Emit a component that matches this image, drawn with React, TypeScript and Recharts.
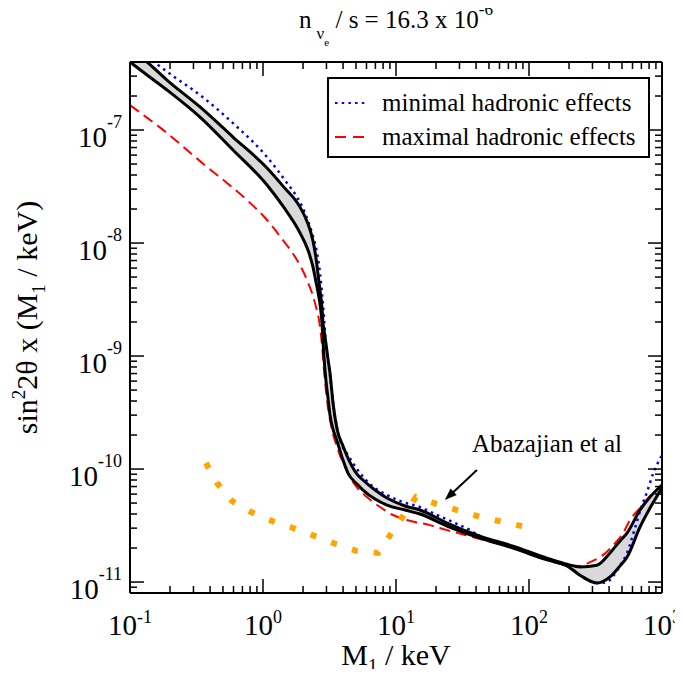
import React from 'react';
import {
  ComposedChart,
  Line,
  Area,
  XAxis,
  YAxis,
  Legend,
  Label,
  ReferenceLine,
  ReferenceDot,
} from 'recharts';

const FONT = '"Liberation Serif", "Times New Roman", Times, serif';

// ---------- data (M1 in keV, y = sin^2 2theta x (M1/keV)) ----------
const bandMass = [
  0.1, 0.1343, 0.1897, 0.336, 0.595, 1.072, 1.413, 1.898, 2.178, 2.377, 2.503,
  2.591, 2.683, 2.777, 2.826, 2.875, 2.977, 3.082, 3.19, 3.36, 3.601, 3.995,
  4.356, 5.09, 5.648, 6.953, 8.556, 11.69, 15.15, 24.18, 42.81, 75.82, 136.6,
  193.1, 241.8, 324.6, 406.4, 483.3, 545.6, 683.4, 812.5, 1000,
];
const bandLower = [
  4.0e-7, 3.07e-7, 2.26e-7, 1.3e-7, 6.65e-8, 3.26e-8, 2.12e-8, 1.23e-8, 8.67e-9,
  6.13e-9, 4.52e-9, 3.68e-9, 2.88e-9, 1.96e-9, 1.36e-9, 9.8e-10, 6.01e-10,
  4.25e-10, 3.01e-10, 2.26e-10, 1.77e-10, 1.2e-10, 9.22e-11, 7.36e-11,
  6.52e-11, 5.43e-11, 4.8e-11, 4.34e-11, 4.0e-11, 3.13e-11, 2.45e-11, 2.0e-11,
  1.57e-11, 1.39e-11, 1.15e-11, 9.8e-12, 1.11e-11, 1.39e-11, 1.66e-11,
  3.07e-11, 4.52e-11, 6.79e-11,
];
const bandUpper = [
  5.21e-7, 4.0e-7, 2.77e-7, 1.6e-7, 8.67e-8, 4.61e-8, 3.19e-8, 2.08e-8, 1.48e-8,
  1.04e-8, 7.37e-9, 5.32e-9, 3.84e-9, 2.66e-9, 1.96e-9, 1.7e-9, 1.28e-9,
  9.4e-10, 7.07e-10, 3.84e-10, 2.26e-10, 1.6e-10, 1.25e-10, 9.03e-11, 8.0e-11,
  6.52e-11, 5.54e-11, 4.71e-11, 4.34e-11, 3.33e-11, 2.55e-11, 2.08e-11,
  1.63e-11, 1.44e-11, 1.36e-11, 1.41e-11, 1.81e-11, 2.31e-11, 2.71e-11,
  4.34e-11, 5.65e-11, 7.22e-11,
];

const minMass = [
  0.1, 0.1624, 0.2105, 0.336, 0.595, 1.072, 1.515, 1.801, 2.069, 2.335, 2.547,
  2.683, 2.777, 2.875, 2.977, 3.19, 3.419, 3.793, 4.356, 5.09, 6.375, 8.556,
  11.29, 15.15, 20.3, 26.8, 36.0, 42.81, 75.82, 136.6, 193.1, 241.8, 324.6,
  385.6, 428.5, 483.3, 545.6, 627, 695, 771, 855, 1000,
];
const minValue = [
  5.54e-7, 3.76e-7, 3.01e-7, 2.04e-7, 1.15e-7, 5.77e-8, 3.4e-8, 2.55e-8,
  1.84e-8, 1.23e-8, 8.16e-9, 5.43e-9, 3.61e-9, 2.17e-9, 1.25e-9, 6.79e-10,
  3.33e-10, 1.81e-10, 1.33e-10, 1.0e-10, 7.36e-11, 5.89e-11, 5.1e-11, 4.61e-11,
  3.92e-11, 3.4e-11, 2.88e-11, 2.55e-11, 2.04e-11, 1.6e-11, 1.41e-11, 1.15e-11,
  9.8e-12, 1.0e-11, 1.13e-11, 1.39e-11, 1.81e-11, 3.01e-11, 4.52e-11, 6.25e-11,
  9.03e-11, 1.33e-10,
];

const maxMass = [
  0.1, 0.1413, 0.1897, 0.2683, 0.3793, 0.536, 0.758, 1.072, 1.413, 1.801, 2.141,
  2.46, 2.683, 2.777, 2.875, 3.029, 3.245, 3.601, 4.135, 4.92, 6.05, 7.59, 9.49,
  12.1, 18.0, 24.18, 33.0, 42.81, 75.82, 136.6, 193.1, 241.8, 287.6, 359.6,
  443.6, 509.6, 574, 683.4, 812.5, 1000,
];
const maxValue = [
  1.66e-7, 1.23e-7, 9.41e-8, 6.65e-8, 4.71e-8, 3.4e-8, 2.4e-8, 1.6e-8, 1.06e-8,
  7.07e-9, 4.71e-9, 2.94e-9, 1.81e-9, 1.25e-9, 7.52e-10, 4.08e-10, 2.45e-10,
  1.57e-10, 1.04e-10, 7.22e-11, 5.65e-11, 4.61e-11, 3.92e-11, 3.54e-11,
  3.19e-11, 2.88e-11, 2.61e-11, 2.4e-11, 2.0e-11, 1.57e-11, 1.41e-11, 1.39e-11,
  1.5e-11, 1.73e-11, 2.21e-11, 2.71e-11, 3.54e-11, 4.52e-11, 5.77e-11, 7.22e-11,
];

const abaMass = [
  0.372, 0.451, 0.585, 0.813, 1.169, 1.681, 2.46, 3.54, 5.09, 7.32, 14.13, 20.3,
  43.5, 94.9,
];
const abaValue = [
  1.13e-10, 7.52e-11, 5.21e-11, 4.16e-11, 3.47e-11, 3.01e-11, 2.55e-11,
  2.17e-11, 1.88e-11, 1.81e-11, 5.65e-11, 4.9e-11, 3.76e-11, 3.07e-11,
];

// annotation
const annotText = 'Abazajian et al';
const annotAt = { x: 136.6, y: 1.7e-10 };
const arrowFrom = { x: 40.6, y: 9.8e-11 };
const arrowTo = { x: 23.3, y: 5.32e-11 };

// axes
const xDomain = [0.1, 1000];
const yDomain = [8e-12, 4e-7];
const xDecades = [0.1, 1, 10, 100];
const yDecades = [1e-12, 1e-11, 1e-10, 1e-9, 1e-8, 1e-7];
const mantissas = [1, 2, 3, 4, 5, 6, 7, 8, 9];
const xTicks = [...xDecades.flatMap((d) => mantissas.map((m) => +(m * d).toPrecision(3))), 1000];
const yTicks = yDecades
  .flatMap((d) => mantissas.map((m) => +(m * d).toPrecision(3)))
  .filter((v) => v >= yDomain[0] * 1.01 && v <= yDomain[1] * 0.99);

const legendItems = [
  { label: 'minimal hadronic effects', color: '#0000ff', dash: '2.5 4.2' },
  { label: 'maximal hadronic effects', color: '#ff0000', dash: '11 7' },
];

// ---------- rows ----------
const bandRows = bandMass.map((x, i) => ({
  x,
  lo: bandLower[i],
  hi: bandUpper[i],
  range: [bandLower[i], bandUpper[i]],
}));
const minRows = minMass.map((x, i) => ({ x, y: minValue[i] }));
const maxRows = maxMass.map((x, i) => ({ x, y: maxValue[i] }));
const abaRows = abaMass.map((x, i) => ({ x, y: abaValue[i] }));

// ---------- helpers ----------
const isMajor = (v: number) =>
  Math.abs(Math.log10(v) - Math.round(Math.log10(v))) < 1e-6;
const expOf = (v: number) => String(Math.round(Math.log10(v)));
const MAJOR = 14;
const MINOR = 7;
const TICK_W = 1.5;

const BottomTick = (p: any) => {
  const { x, y, payload } = p;
  const v = payload.value;
  const major = isMajor(v);
  return (
    <g>
      <line x1={x} y1={y} x2={x} y2={y - (major ? MAJOR : MINOR)} stroke="#000" strokeWidth={TICK_W} />
      {major && (
        <text x={x} y={y + 42} textAnchor="middle" fontFamily={FONT} fontSize={29} fill="#000">
          10
          <tspan dy={-12} fontSize={18}>
            {expOf(v)}
          </tspan>
        </text>
      )}
    </g>
  );
};

const TopTick = (p: any) => {
  const { x, y, payload } = p;
  const major = isMajor(payload.value);
  return <line x1={x} y1={y} x2={x} y2={y + (major ? MAJOR : MINOR)} stroke="#000" strokeWidth={TICK_W} />;
};

const LeftTick = (p: any) => {
  const { x, y, payload } = p;
  const v = payload.value;
  const major = isMajor(v);
  return (
    <g>
      <line x1={x} y1={y} x2={x + (major ? MAJOR : MINOR)} y2={y} stroke="#000" strokeWidth={TICK_W} />
      {major && (
        <text x={x - 8} y={y + 17} textAnchor="end" fontFamily={FONT} fontSize={29} fill="#000">
          10
          <tspan dy={-19} fontSize={18}>
            {expOf(v)}
          </tspan>
        </text>
      )}
    </g>
  );
};

const RightTick = (p: any) => {
  const { x, y, payload } = p;
  const major = isMajor(payload.value);
  return <line x1={x} y1={y} x2={x - (major ? MAJOR : MINOR)} y2={y} stroke="#000" strokeWidth={TICK_W} />;
};

const XLabel = (p: any) => {
  const vb = p.viewBox;
  return (
    <text x={vb.x + vb.width / 2} y={vb.y + 72} textAnchor="middle" fontFamily={FONT} fontSize={30} fill="#000">
      M
      <tspan dy={7} fontSize={19}>1</tspan>
      <tspan dy={-7} fontSize={30}> / keV</tspan>
    </text>
  );
};

const YLabel = (p: any) => {
  const vb = p.viewBox;
  const cx = vb.x + 37;
  const cy = vb.y + vb.height / 2 - 10;
  return (
    <text
      x={cx}
      y={cy}
      transform={`rotate(-90, ${cx}, ${cy})`}
      textAnchor="middle"
      fontFamily={FONT}
      fontSize={30}
      fill="#000"
    >
      sin
      <tspan dy={-12} fontSize={19}>2</tspan>
      <tspan dy={12} fontSize={30}>2θ x (M</tspan>
      <tspan dy={8} fontSize={19}>1</tspan>
      <tspan dy={-8} fontSize={30}> / keV)</tspan>
    </text>
  );
};

const TitleLabel = (p: any) => {
  const vb = p.viewBox;
  return (
    <text
      x={vb.x + vb.width / 2}
      y={vb.y + vb.height - 34}
      textAnchor="middle"
      fontFamily={FONT}
      fontSize={25}
      fill="#000"
    >
      n
      <tspan dx={5} dy={11} fontSize={17}>ν</tspan>
      <tspan dy={7} fontSize={11}>e</tspan>
      <tspan dy={-18} fontSize={25}> / s = 16.3 x 10</tspan>
      <tspan dy={-13} fontSize={17}>-6</tspan>
    </text>
  );
};

const ArrowShape = (p: any) => {
  const { x1, y1, x2, y2 } = p;
  if (x1 == null) return <g />;
  const ang = Math.atan2(y2 - y1, x2 - x1);
  const L = 12;
  const W = 4.5;
  const bx = x2 - L * Math.cos(ang);
  const by = y2 - L * Math.sin(ang);
  const q1x = bx + W * Math.sin(ang);
  const q1y = by - W * Math.cos(ang);
  const q2x = bx - W * Math.sin(ang);
  const q2y = by + W * Math.cos(ang);
  return (
    <g>
      <line x1={x1} y1={y1} x2={bx + 2 * Math.cos(ang)} y2={by + 2 * Math.sin(ang)} stroke="#000" strokeWidth={2} />
      <polygon points={`${x2},${y2} ${q1x},${q1y} ${q2x},${q2y}`} fill="#000" />
    </g>
  );
};

const AnnotShape = (p: any) => (
  <text x={p.cx} y={p.cy} textAnchor="middle" dominantBaseline="central" fontFamily={FONT} fontSize={25} fill="#000">
    {annotText}
  </text>
);

const LegendBox = () => (
  <div
    style={{
      width: 319,
      height: 77,
      border: '2px solid #000',
      background: '#fff',
      position: 'relative',
      fontFamily: FONT,
      fontSize: 25,
      color: '#000',
    }}
  >
    {legendItems.map((it, i) => (
      <div
        key={it.label}
        style={{
          position: 'absolute',
          left: 6,
          top: 9 + i * 34,
          height: 30,
          display: 'flex',
          alignItems: 'center',
          whiteSpace: 'nowrap',
        }}
      >
        <svg width={32} height={10} style={{ display: 'block' }}>
          <line x1={0} y1={5} x2={32} y2={5} stroke={it.color} strokeWidth={2} strokeDasharray={it.dash} />
        </svg>
        <span style={{ marginLeft: 15, lineHeight: '30px' }}>{it.label}</span>
      </div>
    ))}
  </div>
);

const commonX = {
  dataKey: 'x',
  type: 'number' as const,
  scale: 'log' as const,
  domain: xDomain,
  allowDataOverflow: true,
  ticks: xTicks,
  interval: 0 as const,
  tickSize: 0,
  tickMargin: 0,
  tickLine: false,
  axisLine: { stroke: '#000', strokeWidth: 2 },
};
const commonY = {
  type: 'number' as const,
  scale: 'log' as const,
  domain: yDomain,
  allowDataOverflow: true,
  ticks: yTicks,
  interval: 0 as const,
  tickSize: 0,
  tickMargin: 0,
  tickLine: false,
  axisLine: { stroke: '#000', strokeWidth: 2 },
};

export default function App() {
  return (
    <div style={{ width: 683, height: 677, margin: -8, fontFamily: FONT, background: '#fff' }}>
      <ComposedChart width={683} height={677} margin={{ top: 61, right: 20, bottom: 0, left: 0 }}>
        <XAxis xAxisId="b" {...commonX} height={84} tick={BottomTick}>
          <Label content={XLabel} />
        </XAxis>
        <XAxis xAxisId="t" {...commonX} orientation="top" height={1} tick={TopTick}>
          <Label content={TitleLabel} />
        </XAxis>
        <YAxis yAxisId="l" {...commonY} width={130} tick={LeftTick}>
          <Label content={YLabel} />
        </YAxis>
        <YAxis yAxisId="r" {...commonY} orientation="right" width={1} tick={RightTick} />

        <Area
          xAxisId="b"
          yAxisId="l"
          data={bandRows}
          dataKey="range"
          type="monotone"
          stroke="none"
          fill="#d9d9d9"
          fillOpacity={1}
          isAnimationActive={false}
          activeDot={false}
        />
        <Line xAxisId="b" yAxisId="l" data={maxRows} dataKey="y" type="monotone" stroke="#ff0000" strokeWidth={2} strokeDasharray="11 6" dot={false} activeDot={false} isAnimationActive={false} />
        <Line xAxisId="b" yAxisId="l" data={minRows} dataKey="y" type="monotone" stroke="#0000ff" strokeWidth={2.5} strokeDasharray="2.5 4.2" dot={false} activeDot={false} isAnimationActive={false} />
        <Line xAxisId="b" yAxisId="l" data={bandRows} dataKey="lo" type="monotone" stroke="#000" strokeWidth={3} dot={false} activeDot={false} isAnimationActive={false} />
        <Line xAxisId="t" yAxisId="r" data={bandRows} dataKey="hi" type="monotone" stroke="#000" strokeWidth={3} dot={false} activeDot={false} isAnimationActive={false} />
        <Line xAxisId="b" yAxisId="l" data={abaRows} dataKey="y" type="linear" stroke="#ffa500" strokeWidth={6} strokeDasharray="6 16" dot={false} activeDot={false} isAnimationActive={false} />

        <ReferenceLine
          xAxisId="b"
          yAxisId="l"
          segment={[arrowFrom, arrowTo]}
          shape={ArrowShape}
          ifOverflow="visible"
        />
        <ReferenceDot xAxisId="b" yAxisId="l" x={annotAt.x} y={annotAt.y} r={1} shape={AnnotShape} ifOverflow="visible" />

        <Legend
          layout="vertical"
          align="center"
          verticalAlign="middle"
          content={LegendBox}
          wrapperStyle={{ position: 'absolute', top: 77, left: 327, width: 323, height: 81 }}
        />
      </ComposedChart>
    </div>
  );
}
